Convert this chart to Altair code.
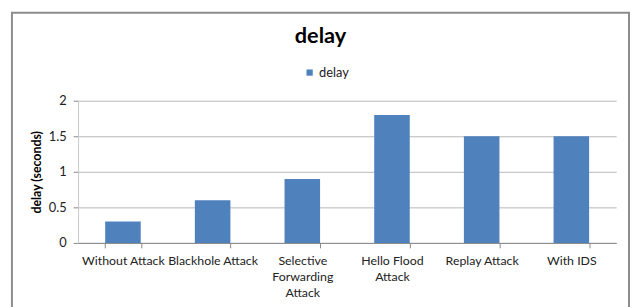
import altair as alt
import pandas as pd

categories = ["Without Attack", "Blackhole Attack", "Selective Forwarding Attack",
              "Hello Flood Attack", "Replay Attack", "With IDS"]
delay_values = [0.3, 0.6, 0.9, 1.8, 1.5, 1.5]
series_name = "delay"
y_ticks = [0, 0.5, 1, 1.5, 2]

df = pd.DataFrame({"category": categories, "value": delay_values,
                   "series": [series_name] * len(categories)})

FONT = "Lato"
W, H = 545, 144

label_expr = ("datum.label == 'Selective Forwarding Attack' ? ['Selective','Forwarding','Attack'] : "
              "datum.label == 'Hello Flood Attack' ? ['Hello Flood','Attack'] : datum.label")

bars = alt.Chart(df).mark_bar(size=36).encode(
    x=alt.X("category:N", sort=categories,
            scale=alt.Scale(paddingInner=0.6, paddingOuter=0.3),
            axis=alt.Axis(title=None, labelAngle=0, labelExpr=label_expr,
                          labelFont=FONT, labelFontSize=12.5, labelColor="#222222",
                          labelPadding=7, labelLineHeight=16, labelLimit=200,
                          tickBand="extent", ticks=True, tickSize=5,
                          tickColor="#868686", domainColor="#868686", grid=False)),
    y=alt.Y("value:Q", scale=alt.Scale(domain=[0, 2], nice=False),
            axis=alt.Axis(title="delay (seconds)", values=y_ticks, format="~g",
                          labelFont=FONT, labelFontSize=13, labelColor="#222222",
                          labelPadding=7, tickSize=5, tickColor="#868686",
                          domainColor="#c8c8c8", gridColor="#b8b8b8",
                          titleFont=FONT, titleFontSize=12.5, titleFontWeight="bold",
                          titleColor="#000000", titleX=-42, titleY=72,
                          titleBaseline="middle", titleAlign="center", titleAngle=270)),
    color=alt.Color("series:N", scale=alt.Scale(range=["#4F81BD"]),
                    legend=alt.Legend(title=None, orient="none", legendX=228, legendY=-35,
                                      symbolType="square", symbolSize=40,
                                      symbolStrokeWidth=0, padding=0,
                                      labelFont=FONT, labelFontSize=13, labelColor="#222222",
                                      labelOffset=3)),
)

frame = alt.Chart(pd.DataFrame({"f": [0]})).mark_rect(
    fill=None, stroke="#8c8c8c", strokeWidth=2, clip=False
).encode(
    x=alt.value(-67), x2=alt.value(558), y=alt.value(-89), y2=alt.value(230)
)

chart = alt.layer(frame, bars).properties(
    width=W, height=H,
    title=alt.Title("delay", font=FONT, fontSize=22, fontWeight="bold", color="#000000",
                    anchor="middle", dx=-27, offset=-37),
    autosize=alt.AutoSizeParams(type="none"),
    padding={"left": 71, "top": 92, "right": 15, "bottom": 63},
    background="white",
).configure_view(stroke=None)

chart.save("out.html", embed_options={"renderer": "svg", "actions": False})
